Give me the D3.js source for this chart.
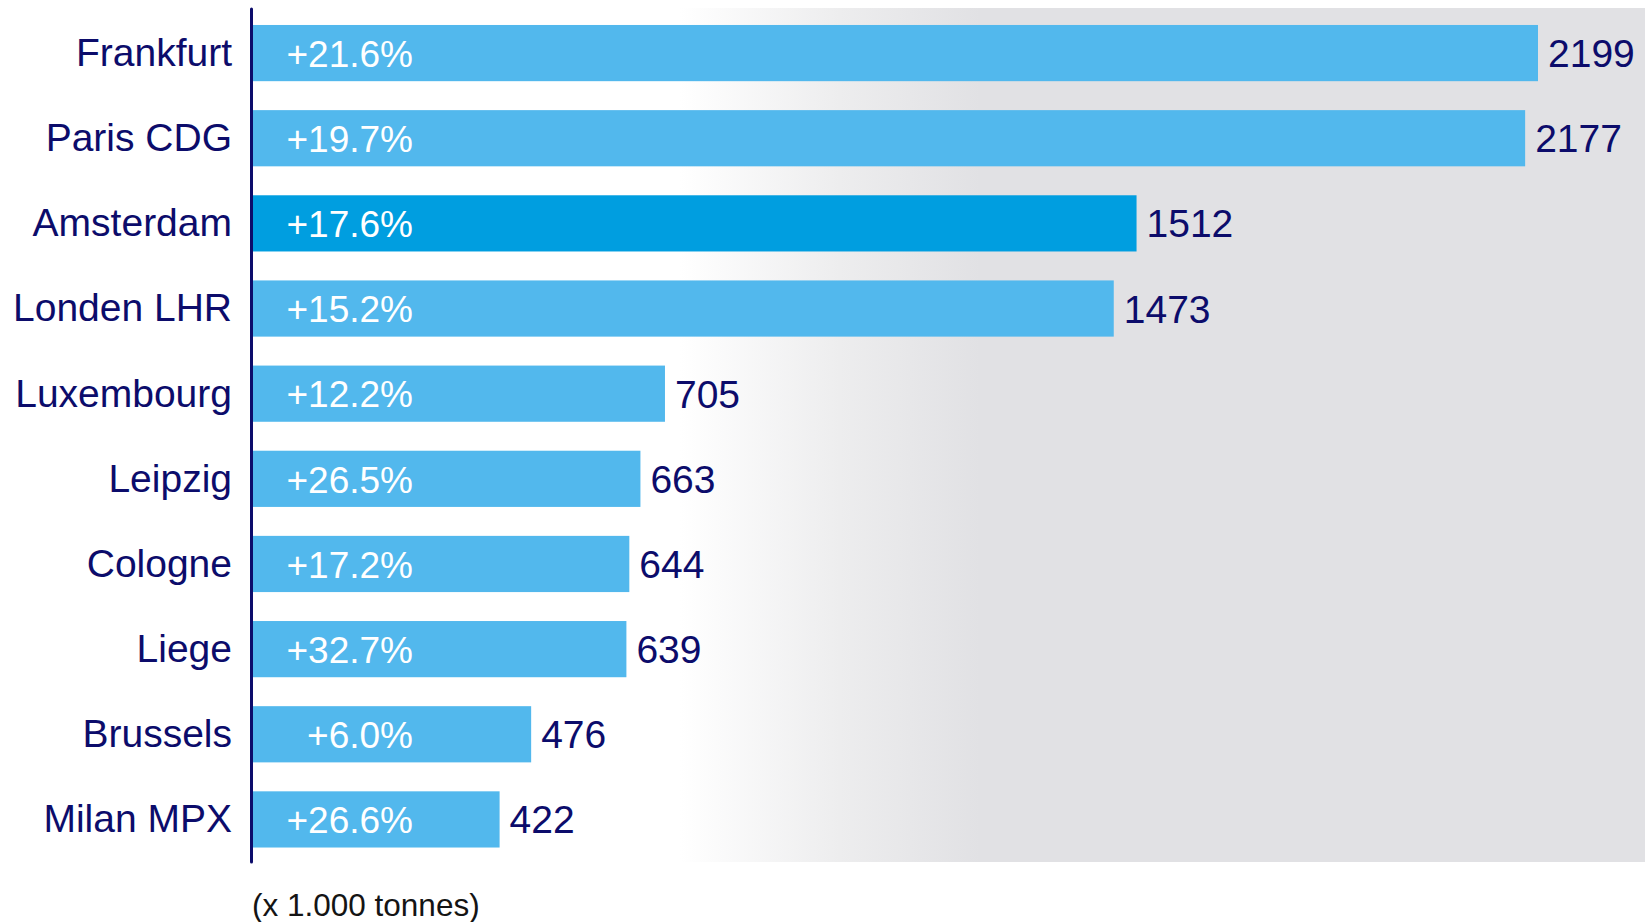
<!DOCTYPE html>
<html>
<head>
<meta charset="utf-8">
<script src="https://cdn.jsdelivr.net/npm/d3@7/dist/d3.min.js"></script>
<style>
  html, body { margin: 0; padding: 0; background: #ffffff; }
  svg { display: block; }
  text { font-family: "Liberation Sans", Arial, Helvetica, sans-serif; }
</style>
</head>
<body>
<svg id="chart" width="1645" height="922"></svg>
<script>
const categories = ["Frankfurt", "Paris CDG", "Amsterdam", "Londen LHR", "Luxembourg", "Leipzig", "Cologne", "Liege", "Brussels", "Milan MPX"];
const tonnes = [2199, 2177, 1512, 1473, 705, 663, 644, 639, 476, 422];
const growth = ["+21.6%", "+19.7%", "+17.6%", "+15.2%", "+12.2%", "+26.5%", "+17.2%", "+32.7%", "+6.0%", "+26.6%"];
const highlight = "Amsterdam";
const unitLabel = "(x 1.000 tonnes)";

const W = 1645, H = 922;
const x0 = 253;
const navy = "#0c0c6b";
const barColor = "#52b8ed";
const hiColor = "#009ee0";
const grey = "#e1e1e4";

const svg = d3.select("#chart");

const x = d3.scaleLinear().domain([0, 2199]).range([x0, 1538]);
const y = d3.scaleBand().domain(categories).range([10.5, 862]).paddingInner(0.34).paddingOuter(0.17);

// background gradient
const defs = svg.append("defs");
const grad = defs.append("linearGradient").attr("id", "bg").attr("x1", "0%").attr("x2", "100%").attr("y1", "0%").attr("y2", "0%");
grad.append("stop").attr("offset", "0%").attr("stop-color", "#ffffff");
grad.append("stop").attr("offset", ((680 - x0) / (W - x0) * 100) + "%").attr("stop-color", "#ffffff");
grad.append("stop").attr("offset", ((840 - x0) / (W - x0) * 100) + "%").attr("stop-color", "#ededee");
grad.append("stop").attr("offset", ((980 - x0) / (W - x0) * 100) + "%").attr("stop-color", grey);
grad.append("stop").attr("offset", "100%").attr("stop-color", grey);

svg.append("rect")
  .attr("x", x0).attr("y", 8)
  .attr("width", W - x0).attr("height", 862 - 8)
  .attr("fill", "url(#bg)");

// bars
const data = categories.map((c, i) => ({ c, v: tonnes[i], g: growth[i] }));

svg.append("g").selectAll("rect").data(data).join("rect")
  .attr("x", x(0))
  .attr("y", d => y(d.c))
  .attr("width", d => x(d.v) - x(0))
  .attr("height", y.bandwidth())
  .attr("fill", d => d.c === highlight ? hiColor : barColor);

// growth labels inside bars
svg.append("g").selectAll("text").data(data).join("text")
  .attr("x", x(0) + 160)
  .attr("y", d => y(d.c) + y.bandwidth() / 2)
  .attr("dy", "0.37em")
  .attr("text-anchor", "end")
  .attr("fill", "#ffffff")
  .attr("font-size", 37)
  .text(d => d.g);

// value labels
svg.append("g").selectAll("text").data(data).join("text")
  .attr("x", d => x(d.v) + 10)
  .attr("y", d => y(d.c) + y.bandwidth() / 2)
  .attr("dy", "0.36em")
  .attr("text-anchor", "start")
  .attr("fill", navy)
  .attr("font-size", 39)
  .text(d => d.v);

// category axis
const axis = d3.axisLeft(y).tickSize(0).tickPadding(20);
const ag = svg.append("g").attr("transform", `translate(${x0 - 1},0)`).call(axis);
ag.select(".domain").remove();
ag.selectAll(".tick text")
  .attr("fill", navy)
  .attr("font-size", 39)
  .attr("font-family", "'Liberation Sans', Arial, sans-serif")
  .attr("dy", "0.33em");

svg.append("line")
  .attr("x1", x0 - 1.5).attr("x2", x0 - 1.5)
  .attr("y1", 9).attr("y2", 862)
  .attr("stroke", navy).attr("stroke-width", 3)
  .attr("stroke-linecap", "round");

// unit label
svg.append("text")
  .attr("x", x0 - 1)
  .attr("y", 916)
  .attr("fill", "#141414")
  .attr("font-size", 31.5)
  .text(unitLabel);
</script>
</body>
</html>
